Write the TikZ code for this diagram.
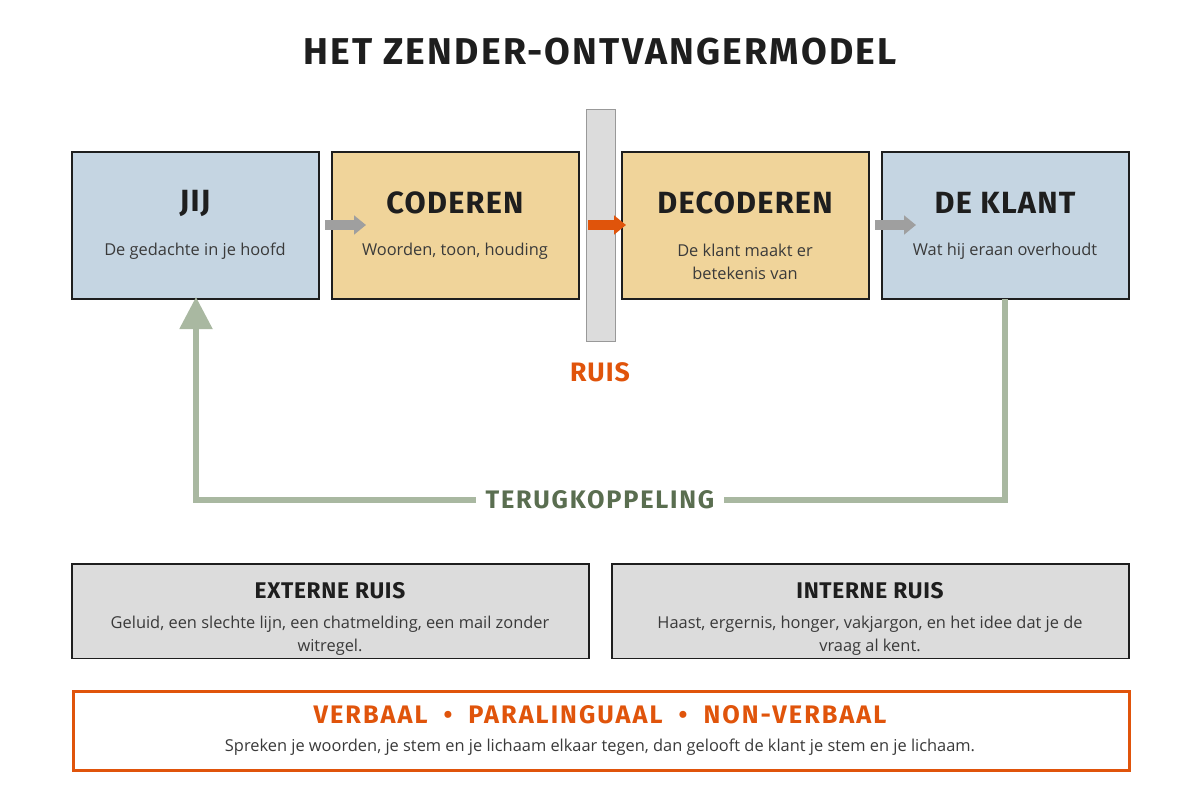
\documentclass[tikz,border=0pt]{standalone}
\usepackage{fontspec}
\setmainfont{Open Sans}
\newfontfamily\head{Fira Sans}
\usetikzlibrary{arrows.meta}
\definecolor{blu}{HTML}{C5D5E2}
\definecolor{tan}{HTML}{F0D49A}
\definecolor{gry}{HTML}{DCDCDC}
\definecolor{org}{HTML}{E0540B}
\definecolor{sage}{HTML}{A9B8A1}
\definecolor{dsage}{HTML}{5A6E50}
\definecolor{ink}{HTML}{1E1E1E}
\definecolor{txt}{HTML}{3A3A3A}
\begin{document}
\begin{tikzpicture}[x=0.75pt,y=-0.75pt,
 box/.style={draw=ink,line width=1.8pt,anchor=north west,inner sep=0pt},
 ttl/.style={font=\head\bfseries\fontsize{23}{26}\selectfont\addfontfeature{LetterSpace=4},text=ink},
 body/.style={font=\fontsize{12.3}{17}\selectfont,text=txt,align=center},
 garr/.style={-{Triangle[length=9pt,width=14pt]},line width=7pt,draw=gray!75},
]
\useasboundingbox (0,0) rectangle (1200,800);
\node[font=\head\bfseries\fontsize{28}{32}\selectfont\addfontfeature{LetterSpace=6},text=ink] (title) at (600,52) {HET ZENDER-ONTVANGERMODEL};
\node[box,fill=blu,minimum width=185pt,minimum height=110pt] (jij) at (71,151) {};
\node[box,fill=tan,minimum width=185pt,minimum height=110pt] (cod) at (331,151) {};
\node[draw=gray!80,line width=1pt,fill=gry,anchor=north west,minimum width=21.5pt,minimum height=174pt,inner sep=0pt] (bar) at (586,109) {};
\node[box,fill=tan,minimum width=185pt,minimum height=110pt] (dec) at (621,151) {};
\node[box,fill=blu,minimum width=185pt,minimum height=110pt] (kl) at (881,151) {};
\node[ttl] (t1) at (195,203) {JIJ};
\node[ttl] (t2) at (455,203) {CODEREN};
\node[ttl] (t3) at (745,203) {DECODEREN};
\node[ttl] (t4) at (1005,203) {DE KLANT};
\node[body] (b1) at (195,251) {De gedachte in je hoofd};
\node[body] (b2) at (455,251) {Woorden, toon, houding};
\node[body] (b3) at (745,262) {De klant maakt er\\betekenis van};
\node[body] (b4) at (1005,251) {Wat hij eraan overhoudt};
\coordinate (a1) at (325,225); \coordinate (a1e) at (366,225);
\coordinate (a2) at (588,225); \coordinate (a2e) at (626,225);
\coordinate (a3) at (875,225); \coordinate (a3e) at (916,225);
\draw[garr] (a1) -- (a1e);
\draw[garr,draw=org] (a2) -- (a2e);
\draw[garr] (a3) -- (a3e);
\node[font=\head\bfseries\fontsize{20}{24}\selectfont\addfontfeature{LetterSpace=4},text=org] (ruis) at (600,372) {RUIS};
\node[font=\head\bfseries\fontsize{19}{24}\selectfont,text=dsage,inner xsep=7pt] (fb) at (600,500) {\addfontfeature{LetterSpace=7}TERUGKOPPELING};
\coordinate (k0) at (1005,299);
\coordinate (j0) at (196,297);
\draw[sage,line width=4pt] (k0) -- (1005,500) -- (fb.east);
\draw[sage,line width=4pt,-{Triangle[length=24pt,width=24pt]}] (fb.west) -- (196,500) -- (j0);
\node[draw=ink,line width=1.2pt,fill=gry,anchor=north west,minimum width=388pt,minimum height=71pt,inner sep=0pt] (ext) at (71,563) {};
\node[draw=ink,line width=1.2pt,fill=gry,anchor=north west,minimum width=388pt,minimum height=71pt,inner sep=0pt] (int) at (611,563) {};
\node[font=\head\bfseries\fontsize{17}{20}\selectfont\addfontfeature{LetterSpace=3},text=ink] (et) at (330,591) {EXTERNE RUIS};
\node[font=\head\bfseries\fontsize{17}{20}\selectfont\addfontfeature{LetterSpace=3},text=ink] (it) at (870,591) {INTERNE RUIS};
\node[body] (eb) at (330,636) {Geluid, een slechte lijn, een chatmelding, een mail zonder\\witregel.};
\node[body] (ib) at (870,636) {Haast, ergernis, honger, vakjargon, en het idee dat je de\\vraag al kent.};
\node[draw=org,line width=2.4pt,fill=white,anchor=north west,minimum width=792pt,minimum height=59pt,inner sep=0pt] (vb) at (72,690) {};
\node[font=\head\bfseries\fontsize{19}{22}\selectfont,text=org] (vt) at (600,715) {\addfontfeature{LetterSpace=8}VERBAAL \ \textbullet\ \ PARALINGUAAL \ \textbullet\ \ NON-VERBAAL};
\node[body] (vbt) at (600,747) {Spreken je woorden, je stem en je lichaam elkaar tegen, dan gelooft de klant je stem en je lichaam.};
\end{tikzpicture}
\end{document}
